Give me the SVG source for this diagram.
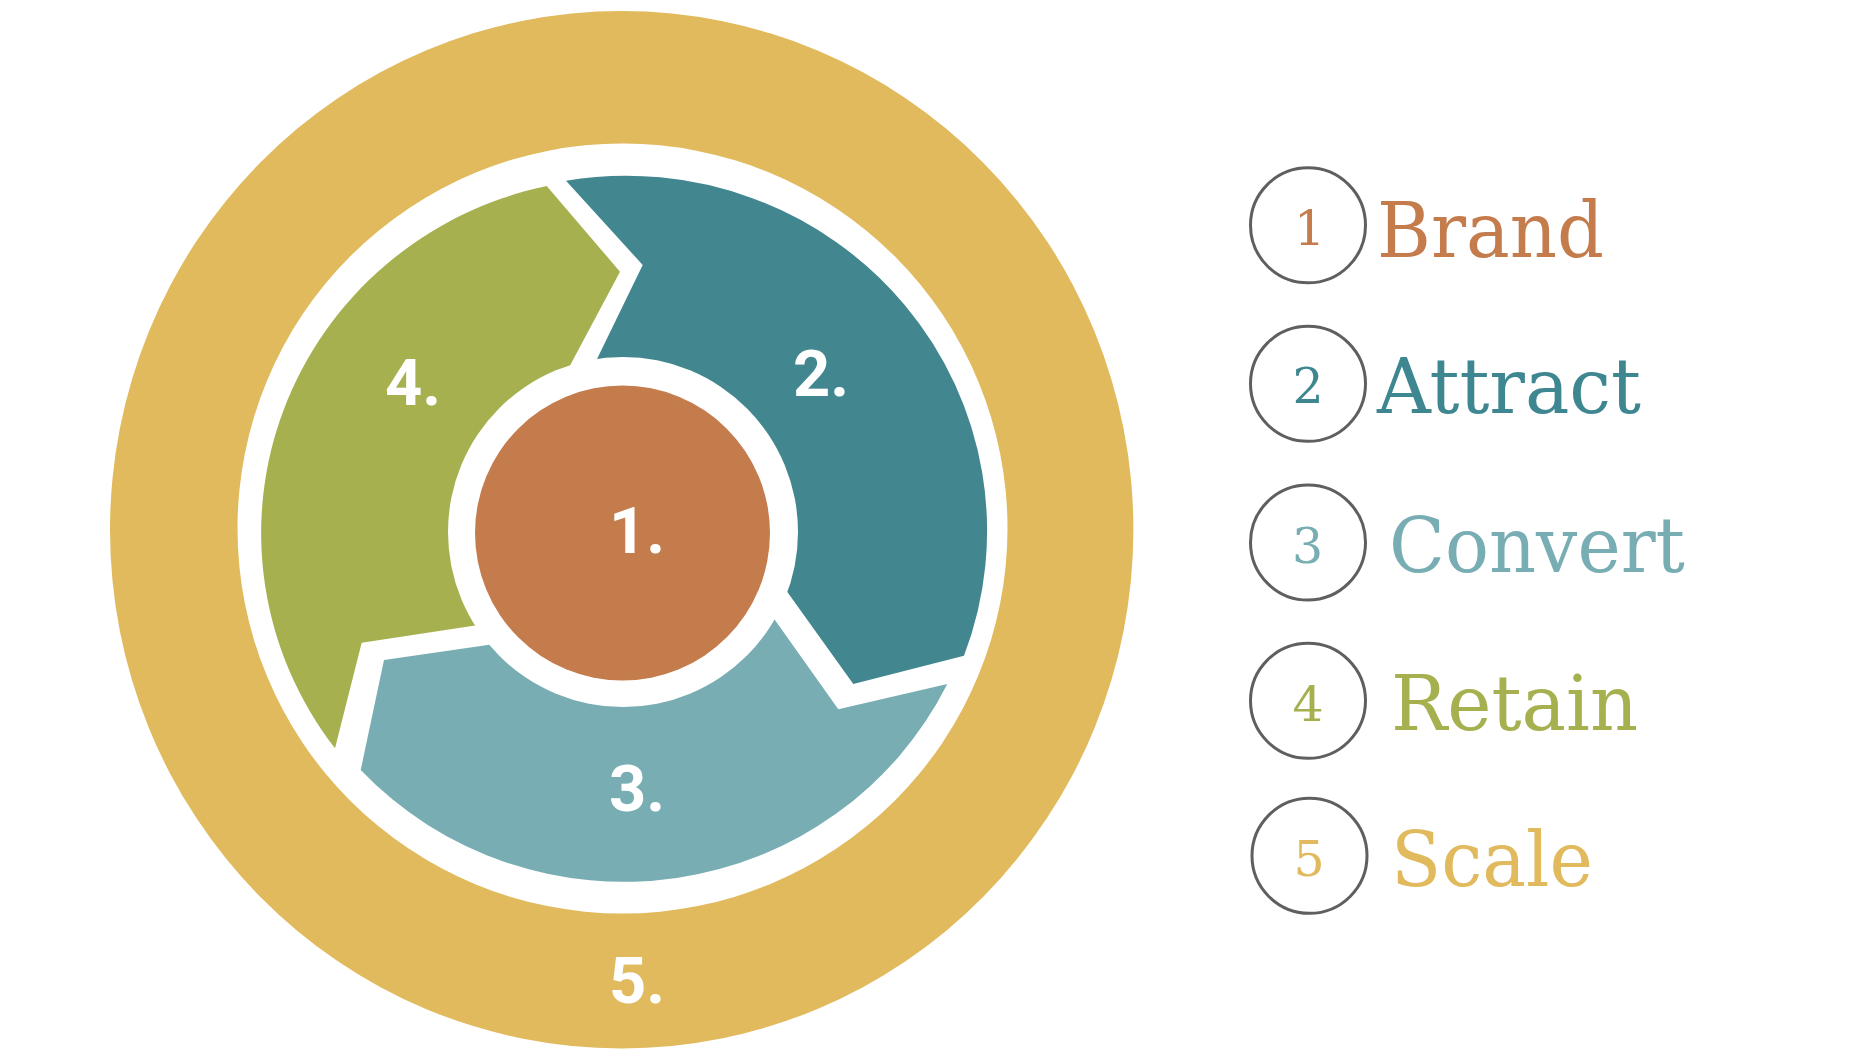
<svg xmlns="http://www.w3.org/2000/svg" width="1868" height="1058" viewBox="0 0 1868 1058">
<style>
.num{font-family:Roboto,"Liberation Sans",sans-serif;font-weight:700;font-size:65px;fill:#fff;text-anchor:middle}
.lc{fill:#fff;stroke:#5f5f5f;stroke-width:3}
.ld{font-family:"DejaVu Serif","Liberation Serif",serif;font-size:49px;text-anchor:middle}
.lt{font-family:"DejaVu Serif","Liberation Serif",serif;font-size:77px}
</style>
<rect width="1868" height="1058" fill="#fff"/>
<g id="node-5">
<ellipse cx="621.7" cy="529.7" rx="511.7" ry="518.7" fill="#E1BA5E"/>
<circle cx="622.5" cy="528.5" r="385" fill="#fff"/>
<text class="num" x="637" y="1003">5.</text>
</g>
<g id="node-2">
<path d="M566,180.7 A361,355 0 0 1 964,655.7 L853.3,684 L771.9,570.5 L623,531 L581.6,390.7 L642.7,265 Z" fill="#428790"/>
<text class="num" x="821" y="396">2.</text>
</g>
<g id="node-3">
<path d="M947.3,684 A361,355 0 0 1 360.7,770 L384,660 L524,639.6 L623,531 L756,593.2 L838.3,709.3 Z" fill="#78AEB3"/>
<text class="num" x="637" y="811">3.</text>
</g>
<g id="node-4">
<path d="M335,748.3 A361,355 0 0 1 546.7,186 L620,271.7 L550.7,401.7 L623,531 L504.7,621 L361.7,642.7 Z" fill="#A7B04F"/>
<text class="num" x="413" y="405">4.</text>
</g>
<g id="node-1">
<circle cx="623" cy="532" r="175" fill="#fff"/>
<circle cx="622.5" cy="533" r="147.5" fill="#C57C4D"/>
<text class="num" x="637" y="553">1.</text>
</g>
<g id="connectors"/>
<g id="legend-1">
<circle class="lc" cx="1308" cy="225.3" r="57.5"/>
<text class="ld" x="1309.5" y="245" fill="#C57C4D">1</text>
<text class="lt" x="1377" y="257.3" fill="#C57C4D" textLength="227" lengthAdjust="spacingAndGlyphs">Brand</text>
</g>
<g id="legend-2">
<circle class="lc" cx="1308" cy="383.8" r="57.5"/>
<text class="ld" x="1308.2" y="402.7" fill="#3F8790">2</text>
<text class="lt" x="1377" y="413.3" fill="#3F8790" textLength="264" lengthAdjust="spacingAndGlyphs">Attract</text>
</g>
<g id="legend-3">
<circle class="lc" cx="1308" cy="542.5" r="57.5"/>
<text class="ld" x="1307.5" y="562.7" fill="#78AEB3">3</text>
<text class="lt" x="1389" y="571.7" fill="#78AEB3" textLength="296" lengthAdjust="spacingAndGlyphs">Convert</text>
</g>
<g id="legend-4">
<circle class="lc" cx="1308" cy="700.8" r="57.5"/>
<text class="ld" x="1308" y="720.7" fill="#A7B04F">4</text>
<text class="lt" x="1391" y="730" fill="#A7B04F" textLength="247" lengthAdjust="spacingAndGlyphs">Retain</text>
</g>
<g id="legend-5">
<circle class="lc" cx="1309.5" cy="855.8" r="57.5"/>
<text class="ld" x="1309.2" y="876" fill="#E1BA5E">5</text>
<text class="lt" x="1391" y="886" fill="#E1BA5E" textLength="202" lengthAdjust="spacingAndGlyphs">Scale</text>
</g>
</svg>
